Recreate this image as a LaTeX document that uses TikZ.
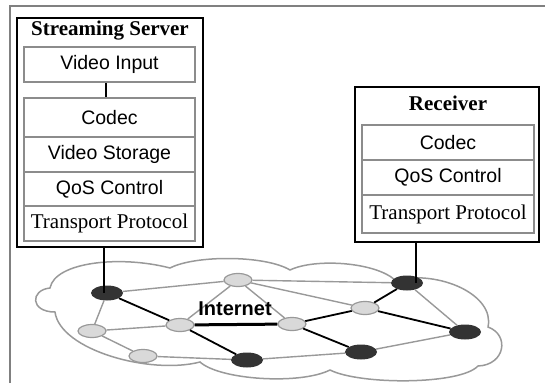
\documentclass[tikz,border=0pt]{standalone}
\usepackage{fontspec}
\setmainfont{Liberation Serif}
\setsansfont{Liberation Sans}
\usetikzlibrary{shapes.geometric}
\begin{document}
\begin{tikzpicture}[x=1pt,y=-1pt,
  framepen/.style={draw=black!50, line width=2pt},
  outerbox/.style={draw=black, line width=2.6pt, fill=white, inner sep=0pt},
  layer/.style={draw=black!45, line width=2.4pt, fill=white, inner sep=0pt,
    font=\sffamily\fontsize{19.5}{20}\selectfont},
  seriflayer/.style={layer, font=\rmfamily\fontsize{21}{22}\selectfont},
  boxtitle/.style={font=\rmfamily\bfseries\fontsize{21}{22}\selectfont, inner sep=0pt},
  blk/.style={ellipse, fill=black!80, minimum width=32pt, minimum height=15pt, inner sep=0pt},
  gry/.style={ellipse, fill=black!15, draw=black!40, line width=1.2pt, minimum width=28pt, minimum height=13pt, inner sep=0pt},
  gedge/.style={draw=black!40, line width=1.4pt},
  bedge/.style={draw=black, line width=1.8pt},
  cloudpen/.style={draw=black!40, line width=1.5pt},
  conn/.style={draw=black, line width=2.2pt}
]
\useasboundingbox (0,0) rectangle (545,383);
% frame
\draw[framepen] (10,383) -- (10,6) -- (545,6);

% cloud
\draw[cloudpen] (50,288) .. controls (55,262) and (120,255) .. (170,268)
  .. controls (195,255) and (265,255) .. (290,270)
  .. controls (315,258) and (375,262) .. (395,280)
  .. controls (440,270) and (495,295) .. (488,327)
  .. controls (510,335) and (505,365) .. (478,366)
  .. controls (460,385) and (360,385) .. (330,370)
  .. controls (300,385) and (220,380) .. (200,362)
  .. controls (150,375) and (60,350) .. (55,312)
  .. controls (30,312) and (30,290) .. (50,288) -- cycle;

% network nodes
\node[blk] (B1) at (107,293) {};
\node[gry] (G1) at (92,331) {};
\node[gry] (G2) at (143,356) {};
\node[gry] (G3) at (180,325) {};
\node[gry] (G4) at (238,280) {};
\node[blk] (B2) at (247,360) {};
\node[gry] (G5) at (292,324) {};
\node[gry] (G6) at (365,308) {};
\node[blk] (B3) at (407,283) {};
\node[blk] (B4) at (465,332) {};
\node[blk] (B5) at (361,352) {};

% gray links
\draw[gedge] (B1) -- (G4);
\draw[gedge] (B1) -- (G1);
\draw[gedge] (G1) -- (G3);
\draw[gedge] (G1) -- (G2);
\draw[gedge] (G2) -- (B2);
\draw[gedge] (G4) -- (G3);
\draw[gedge] (G4) -- (G5);
\draw[gedge] (G4) -- (B3);
\draw[gedge] (G4) -- (G6);
\draw[gedge] (B3) -- (B4);
\draw[gedge] (B5) -- (B4);
\draw[gedge] (B2) -- (B5);
% black links
\draw[bedge] (B1) -- (G3);
\draw[bedge] (G3) -- (B2);
\draw[bedge, line width=3pt] (G3) -- (G5);
\draw[bedge] (G5) -- (G6);
\draw[bedge] (G6) -- (B3);
\draw[bedge] (G6) -- (B4);
\draw[bedge] (G5) -- (B5);

\node[font=\sffamily\bfseries\fontsize{20}{22}\selectfont, inner sep=0pt] (inet) at (235,309) {Internet};

% streaming server
\node[outerbox, minimum width=186pt, minimum height=229pt] (server) at (110,132.5) {};
\node[boxtitle] (stitle) at (110,31) {Streaming Server};
\node[layer, minimum width=171pt, minimum height=35pt] (vin) at (109.5,64.5) {Video Input};
\node[layer, minimum width=171pt, minimum height=39pt] (scodec) at (109.5,117.5) {Codec};
\node[layer, minimum width=171pt, minimum height=35pt] (sstore) at (109.5,154.5) {Video Storage};
\node[layer, minimum width=171pt, minimum height=34pt] (sqos) at (109.5,189) {QoS Control};
\node[seriflayer, minimum width=171pt, minimum height=35pt] (stp) at (109.5,223.5) {Transport Protocol};
\draw[conn] ([xshift=-3.5pt]vin.south) -- ([xshift=-3.5pt]scodec.north);

% receiver
\node[outerbox, minimum width=184pt, minimum height=155pt] (recv) at (447,164.5) {};
\node[boxtitle] (rtitle) at (448,103) {Receiver};
\node[layer, minimum width=172pt, minimum height=35pt] (rcodec) at (448,142.5) {Codec};
\node[layer, minimum width=172pt, minimum height=35pt] (rqos) at (448,177.5) {QoS Control};
\node[seriflayer, minimum width=172pt, minimum height=38pt] (rtp) at (448,214) {Transport Protocol};

% connectors to network
\coordinate (sc) at (104,247);
\coordinate (rc) at (416,242);
\draw[conn] (sc) -- (sc |- B1.center);
\draw[conn] (rc) -- (rc |- B3.center);
\end{tikzpicture}
\end{document}
